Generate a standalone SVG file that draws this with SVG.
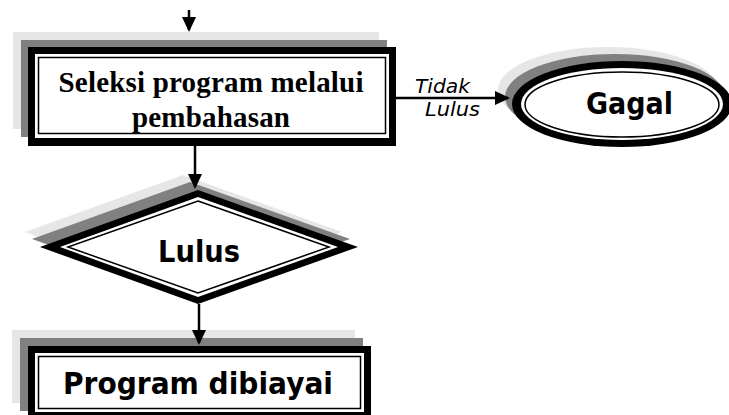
<svg xmlns="http://www.w3.org/2000/svg" width="729" height="415" viewBox="0 0 729 415">
  <style>
    .sh1 { fill: #e6e6e6; }
    .sh2 { fill: #808080; }
    .blk { fill: #000000; }
    .wht { fill: #ffffff; }
    .thin { fill: #ffffff; stroke: #000000; stroke-width: 1.5; }
    .conn { stroke: #000000; stroke-width: 2.5; fill: none; }
    .serif { font-family: "Liberation Serif", "Times New Roman", serif; font-weight: bold; font-size: 29px; fill: #000; }
    .sans { font-family: "DejaVu Sans", sans-serif; font-weight: bold; font-size: 31px; fill: #000; }
    .lbl { font-family: "DejaVu Sans", sans-serif; font-style: italic; font-size: 20px; fill: #000; }
  </style>
  <defs>
    <marker id="arrow" viewBox="0 0 15 14" markerWidth="15" markerHeight="14" refX="13" refY="7" orient="auto" markerUnits="userSpaceOnUse">
      <path d="M0,0 L15,7 L0,14 Z" fill="#000"/>
    </marker>
  </defs>
  <rect width="729" height="415" fill="#ffffff"/>

  <g id="seleksi">
    <rect class="sh1" x="13" y="32" width="366" height="97"/>
    <rect class="sh2" x="21" y="40" width="366" height="97"/>
    <rect class="blk" x="28" y="47" width="368" height="99"/>
    <rect class="wht" x="35" y="54" width="354" height="84"/>
    <rect class="thin" x="38.5" y="57.5" width="347" height="76"/>
    <text class="serif" x="211" y="92" text-anchor="middle" textLength="305">Seleksi program melalui</text>
    <text class="serif" x="211" y="127" text-anchor="middle" textLength="158">pembahasan</text>
  </g>

  <g id="gagal">
    <ellipse class="sh1" cx="608" cy="90" rx="110" ry="43"/>
    <ellipse class="sh2" cx="615" cy="97" rx="110" ry="43"/>
    <ellipse class="blk" cx="622" cy="104" rx="110" ry="43"/>
    <ellipse class="wht" cx="622" cy="104" rx="101" ry="36"/>
    <ellipse class="thin" cx="622" cy="104.5" rx="97" ry="32.5"/>
    <text class="sans" x="629.5" y="114" text-anchor="middle" textLength="87" lengthAdjust="spacingAndGlyphs">Gagal</text>
  </g>

  <g id="lulus">
    <polygon class="sh1" points="183,175 342,232 183,289 25,232"/>
    <polygon class="sh2" points="190,182 350,239 190,296 32,239"/>
    <polygon class="blk" points="198,190 358,247 198,304 40,247"/>
    <polygon class="wht" points="198,197 338,247 198,297 60,247"/>
    <polygon class="thin" points="198,201 329,247 198,293 68,247"/>
    <text class="sans" x="199" y="262" text-anchor="middle" textLength="82" lengthAdjust="spacingAndGlyphs">Lulus</text>
  </g>

  <g id="dibiayai">
    <rect class="sh1" x="12" y="330" width="343" height="73"/>
    <rect class="sh2" x="20" y="338" width="343" height="73"/>
    <rect class="blk" x="28" y="346" width="343" height="73"/>
    <rect class="wht" x="35" y="353" width="329" height="59"/>
    <rect class="thin" x="38.5" y="356.5" width="322" height="52"/>
    <text class="sans" x="198" y="394" text-anchor="middle" textLength="270" lengthAdjust="spacingAndGlyphs">Program dibiayai</text>
  </g>

  <g id="connectors">
    <line class="conn" x1="189" y1="10" x2="189" y2="30" marker-end="url(#arrow)"/>
    <line class="conn" x1="195" y1="146" x2="195" y2="187" marker-end="url(#arrow)"/>
    <line class="conn" x1="396" y1="98" x2="508" y2="98" marker-end="url(#arrow)"/>
    <line class="conn" x1="199" y1="304" x2="199" y2="343" marker-end="url(#arrow)"/>
    <text class="lbl" x="415" y="93" textLength="55" lengthAdjust="spacingAndGlyphs">Tidak</text>
    <text class="lbl" x="425" y="116" textLength="55" lengthAdjust="spacingAndGlyphs">Lulus</text>
  </g>
</svg>
